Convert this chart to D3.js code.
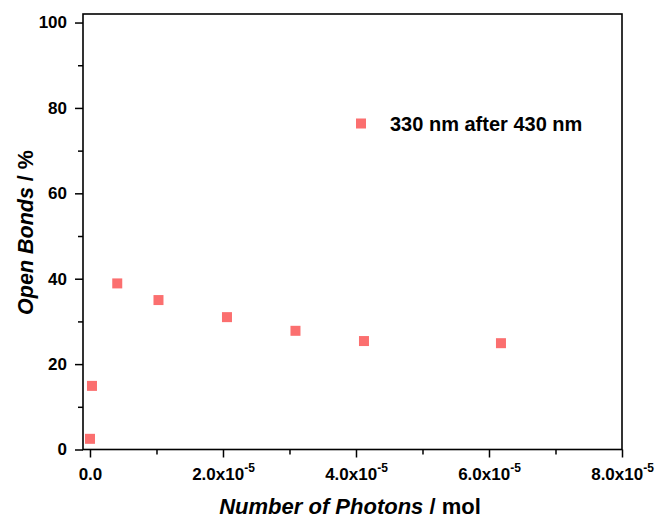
<!DOCTYPE html>
<html>
<head>
<meta charset="utf-8">
<script src="https://cdn.jsdelivr.net/npm/d3@7"></script>
<style>
  body { margin: 0; background: #fff; }
  svg { font-family: "Liberation Sans", Arial, sans-serif; }
</style>
</head>
<body>
<svg id="chart" width="658" height="519"></svg>
<script>
// data
const photons = [0, 0.03e-5, 0.41e-5, 1.03e-5, 2.06e-5, 3.09e-5, 4.12e-5, 6.18e-5];
const openBonds = [2.5, 14.9, 38.9, 35.0, 31.0, 27.8, 25.4, 24.9];
const seriesName = "330 nm after 430 nm";
const xMajorTicks = [0, 2e-5, 4e-5, 6e-5, 8e-5];
const xMinorTicks = [1e-5, 3e-5, 5e-5, 7e-5];
const yMajorTicks = [0, 20, 40, 60, 80, 100];
const yMinorTicks = [10, 30, 50, 70, 90];

const svg = d3.select("#chart");
const margin = { top: 14, right: 36, bottom: 69.5, left: 83 };
const width = 658 - margin.left - margin.right;
const height = 519 - margin.top - margin.bottom;
const g = svg.append("g").attr("transform", `translate(${margin.left},${margin.top})`);

const x = d3.scaleLinear().domain([-0.105e-5, 8e-5]).range([0, width]);
const y = d3.scaleLinear().domain([0, 102]).range([height, 0]);

const color = "#fb6f6f";

// minor ticks
g.append("g")
  .attr("transform", `translate(0,${height})`)
  .call(d3.axisBottom(x).tickValues(xMinorTicks).tickSize(5).tickFormat(""))
  .call(a => a.select(".domain").remove())
  .selectAll("line").attr("stroke-width", 1.5);
g.append("g")
  .call(d3.axisLeft(y).tickValues(yMinorTicks).tickSize(5).tickFormat(""))
  .call(a => a.select(".domain").remove())
  .selectAll("line").attr("stroke-width", 1.5);

// major x axis
const xAxis = g.append("g")
  .attr("transform", `translate(0,${height})`)
  .call(d3.axisBottom(x).tickValues(xMajorTicks).tickSize(8).tickPadding(10).tickFormat(""));
xAxis.select(".domain").remove();
xAxis.selectAll("line").attr("stroke-width", 1.5);
xAxis.selectAll(".tick text")
  .attr("font-size", 17).attr("font-weight", "bold").attr("fill", "#000")
  .each(function(d) {
    const t = d3.select(this);
    if (d === 0) { t.text("0.0"); return; }
    t.text(null);
    t.append("tspan").text((d / 1e-5).toFixed(1) + "x10");
    t.append("tspan").attr("font-size", 12).attr("dy", "-0.6em").text("-5");
  });

// major y axis
const yAxis = g.append("g")
  .call(d3.axisLeft(y).tickValues(yMajorTicks).tickSize(8).tickPadding(8));
yAxis.select(".domain").remove();
yAxis.selectAll("line").attr("stroke-width", 1.5);
yAxis.selectAll(".tick text")
  .attr("font-size", 17).attr("font-weight", "bold").attr("fill", "#000");

// frame
g.append("rect")
  .attr("width", width).attr("height", height)
  .attr("fill", "none").attr("stroke", "#000").attr("stroke-width", 1.6);

// points
const size = 10;
g.selectAll(".pt")
  .data(photons.map((p, i) => ({ p, v: openBonds[i] })))
  .enter().append("rect")
  .attr("class", "pt")
  .attr("x", d => x(d.p) - size / 2)
  .attr("y", d => y(d.v) - size / 2)
  .attr("width", size).attr("height", size)
  .attr("fill", color);

// legend
const legend = g.append("g").attr("transform", `translate(${361 - margin.left},${123.5 - margin.top})`);
legend.append("rect").attr("x", -5).attr("y", -5).attr("width", 10).attr("height", 10).attr("fill", color);
legend.append("text").attr("x", 29).attr("y", 7.5)
  .attr("font-size", 20).attr("font-weight", "bold").text(seriesName);

// axis titles
const xt = svg.append("text")
  .attr("x", 350).attr("y", 514)
  .attr("text-anchor", "middle").attr("font-size", 22).attr("font-weight", "bold");
xt.append("tspan").attr("font-style", "italic").text("Number of Photons");
xt.append("tspan").text(" / mol");

const yt = svg.append("text")
  .attr("transform", "translate(33,232.5) rotate(-90)")
  .attr("text-anchor", "middle").attr("font-size", 21.5).attr("font-weight", "bold");
yt.append("tspan").attr("font-style", "italic").text("Open Bonds");
yt.append("tspan").text(" / %");
</script>
</body>
</html>
